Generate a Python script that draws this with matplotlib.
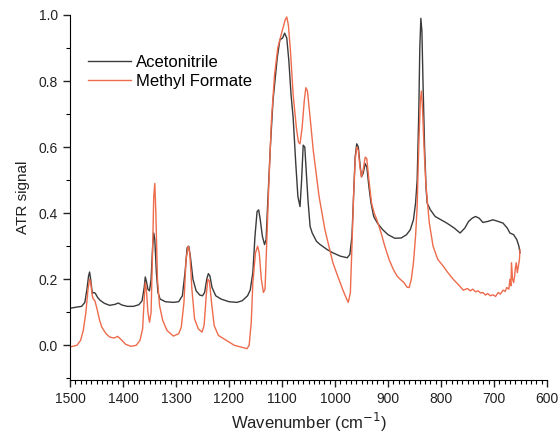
import matplotlib
matplotlib.use("Agg")
import matplotlib.pyplot as plt
from matplotlib.ticker import MultipleLocator

# Acetonitrile (black)
acn_wn = [1500, 1490, 1478, 1472, 1468, 1465, 1463, 1461, 1458, 1455, 1452, 1448,
          1443, 1435, 1425, 1415, 1409, 1402, 1392, 1380, 1370, 1364, 1360, 1358,
          1356, 1353, 1350, 1347, 1344, 1342, 1340, 1337, 1334, 1330, 1320, 1305,
          1295, 1288, 1283, 1279, 1276, 1273, 1268, 1262, 1255, 1250, 1246, 1242,
          1239, 1236, 1232, 1225, 1215, 1200, 1185, 1175, 1165, 1160, 1155, 1151,
          1147, 1144, 1141, 1137, 1133, 1130, 1127, 1122, 1117, 1109, 1104, 1099,
          1095, 1091, 1087, 1083, 1079, 1074, 1070, 1066, 1063, 1060, 1057, 1054,
          1051, 1047, 1043, 1035, 1028, 1015, 1004, 990, 977, 972, 968, 965, 962,
          959, 956, 953, 950, 947, 943, 940, 936, 932, 927, 920, 910, 900, 887,
          875, 865, 858, 852, 848, 845, 842, 840, 838, 836, 834, 831, 828, 826,
          820, 811, 800, 789, 775, 764, 755, 748, 741, 735, 728, 721, 712, 702,
          692, 683, 675, 670, 663, 657, 653, 651]
acn_val = [0.112, 0.115, 0.118, 0.13, 0.17, 0.21, 0.222, 0.2, 0.158, 0.16, 0.157, 0.145,
           0.136, 0.127, 0.121, 0.124, 0.128, 0.122, 0.118, 0.118, 0.123, 0.135, 0.175, 0.207,
           0.195, 0.17, 0.165, 0.2, 0.3, 0.34, 0.32, 0.22, 0.16, 0.14, 0.132, 0.13,
           0.132, 0.15, 0.22, 0.295, 0.30, 0.27, 0.2, 0.165, 0.152, 0.15, 0.16, 0.2,
           0.217, 0.21, 0.175, 0.15, 0.14, 0.132, 0.13, 0.135, 0.15, 0.167, 0.22, 0.33,
           0.405, 0.41, 0.38, 0.33, 0.305, 0.32, 0.43, 0.6, 0.74, 0.87, 0.925, 0.93,
           0.945, 0.93, 0.86, 0.76, 0.69, 0.55, 0.45, 0.42, 0.5, 0.606, 0.6, 0.52,
           0.44, 0.36, 0.34, 0.315, 0.305, 0.29, 0.28, 0.27, 0.265, 0.275, 0.33, 0.45, 0.57,
           0.61, 0.6, 0.55, 0.51, 0.52, 0.55, 0.54, 0.48, 0.43, 0.39, 0.37, 0.35, 0.335, 0.324,
           0.325, 0.335, 0.35, 0.38, 0.43, 0.5, 0.7, 0.9, 0.99, 0.95, 0.8, 0.6, 0.47, 0.43,
           0.41, 0.39, 0.38, 0.37, 0.355, 0.34, 0.355, 0.375, 0.385, 0.39, 0.385, 0.372, 0.375, 0.38,
           0.375, 0.37, 0.355, 0.34, 0.335, 0.32, 0.3, 0.28]

# Methyl formate (red)
mf_wn = [1500, 1487, 1480, 1475, 1470, 1466, 1463, 1461, 1458, 1456, 1453, 1449,
         1444, 1440, 1432, 1425, 1417, 1410, 1404, 1395, 1385, 1375, 1368, 1363,
         1360, 1358, 1356, 1353, 1350, 1347, 1344, 1342, 1340, 1338, 1335, 1331,
         1325, 1317, 1305, 1295, 1290, 1285, 1281, 1277, 1274, 1270, 1265, 1258,
         1251, 1247, 1243, 1240, 1237, 1233, 1228, 1220, 1210, 1200, 1190, 1178,
         1166, 1162, 1158, 1155, 1150, 1146, 1143, 1139, 1135, 1132, 1129, 1125,
         1120, 1114, 1108, 1100, 1094, 1091, 1088, 1084, 1079, 1073, 1069, 1066,
         1062, 1058, 1055, 1052, 1047, 1041, 1030, 1019, 1004, 995, 985, 978, 975,
         971, 968, 965, 962, 959, 956, 953, 950, 947, 943, 940, 936, 931, 926,
         921, 913, 906, 898, 890, 883, 877, 870, 864, 860, 856, 852, 848, 845,
         842, 839, 837, 835, 832, 829, 826, 822, 815, 806, 796, 787, 777, 768,
         758, 750, 745, 740, 735, 730, 725, 721, 716, 712, 707, 702, 697, 692,
         688, 683, 679, 676, 672, 670, 668, 667, 665, 663, 661, 660, 658, 656,
         654, 652, 651]
mf_val = [-0.005, 0.0, 0.015, 0.045, 0.1, 0.17, 0.2, 0.19, 0.15, 0.14, 0.135, 0.11,
          0.075, 0.055, 0.035, 0.025, 0.022, 0.027, 0.018, 0.003, -0.003, 0.0, 0.015, 0.05,
          0.14, 0.19, 0.17, 0.1, 0.07, 0.1, 0.3, 0.45, 0.49, 0.4, 0.2, 0.12,
          0.075, 0.045, 0.028, 0.035, 0.055, 0.13, 0.26, 0.3, 0.28, 0.17, 0.08, 0.05,
          0.04, 0.06, 0.15, 0.2, 0.195, 0.13, 0.06, 0.03, 0.02, 0.01, 0.0, -0.005,
          -0.01, 0.0, 0.07, 0.19, 0.28, 0.3, 0.28, 0.2, 0.16, 0.17, 0.3, 0.48,
          0.68, 0.82, 0.9, 0.95, 0.985, 0.994, 0.97, 0.89, 0.76, 0.66, 0.615, 0.61,
          0.66, 0.74, 0.78, 0.77, 0.69, 0.59, 0.45, 0.35, 0.25, 0.21, 0.167, 0.14, 0.13,
          0.16, 0.3, 0.45, 0.56, 0.6, 0.59, 0.54, 0.51, 0.53, 0.57, 0.565, 0.5, 0.43, 0.4,
          0.38, 0.34, 0.3, 0.26, 0.23, 0.21, 0.2, 0.19, 0.176, 0.175, 0.2, 0.25, 0.33, 0.42,
          0.6, 0.74, 0.77, 0.72, 0.6, 0.5, 0.44, 0.37, 0.3, 0.26, 0.24, 0.22, 0.2, 0.185,
          0.167, 0.172, 0.165, 0.17, 0.162, 0.165, 0.158, 0.16, 0.152, 0.157, 0.15, 0.153, 0.148, 0.16,
          0.155, 0.167, 0.163, 0.175, 0.17, 0.2, 0.18, 0.25, 0.2, 0.19, 0.21, 0.23, 0.25, 0.22,
          0.24, 0.26, 0.29]

plt.rcParams["font.family"] = ["Liberation Sans", "DejaVu Sans"]

fig = plt.figure(figsize=(5.59, 4.44), dpi=100)
ax = fig.add_axes([70/559, 64/444, 477/559, 365/444])

ax.plot(acn_wn, acn_val, color="#3a3a3a", lw=1.0, label="Acetonitrile")
ax.plot(mf_wn, mf_val, color="#ee6b4c", lw=1.0, label="Methyl Formate")

ax.set_xlim(1500, 600)
ax.set_ylim(-0.105, 1.0)
ax.spines["top"].set_visible(False)
ax.spines["right"].set_visible(False)

ax.xaxis.set_major_locator(MultipleLocator(100))
ax.xaxis.set_minor_locator(MultipleLocator(10))
ax.yaxis.set_major_locator(MultipleLocator(0.2))
ax.yaxis.set_minor_locator(MultipleLocator(0.1))
ax.set_yticks([0.0, 0.2, 0.4, 0.6, 0.8, 1.0])
ax.tick_params(which="major", direction="out", length=5, width=1, labelsize=10, colors="#222222")
ax.tick_params(which="minor", direction="out", length=3, width=0.8)

ax.set_xlabel("Wavenumber (cm$^{-1}$)", fontsize=12, color="#222222")
ax.set_ylabel("ATR signal", fontsize=11, color="#222222", labelpad=6)

ax.legend(loc="upper left", bbox_to_anchor=(88/559, 389/444), bbox_transform=fig.transFigure,
          frameon=False, fontsize=12, handlelength=2.6, handletextpad=0.3,
          labelspacing=0.25, borderpad=0, borderaxespad=0)

fig.savefig("out.png", dpi=100)
